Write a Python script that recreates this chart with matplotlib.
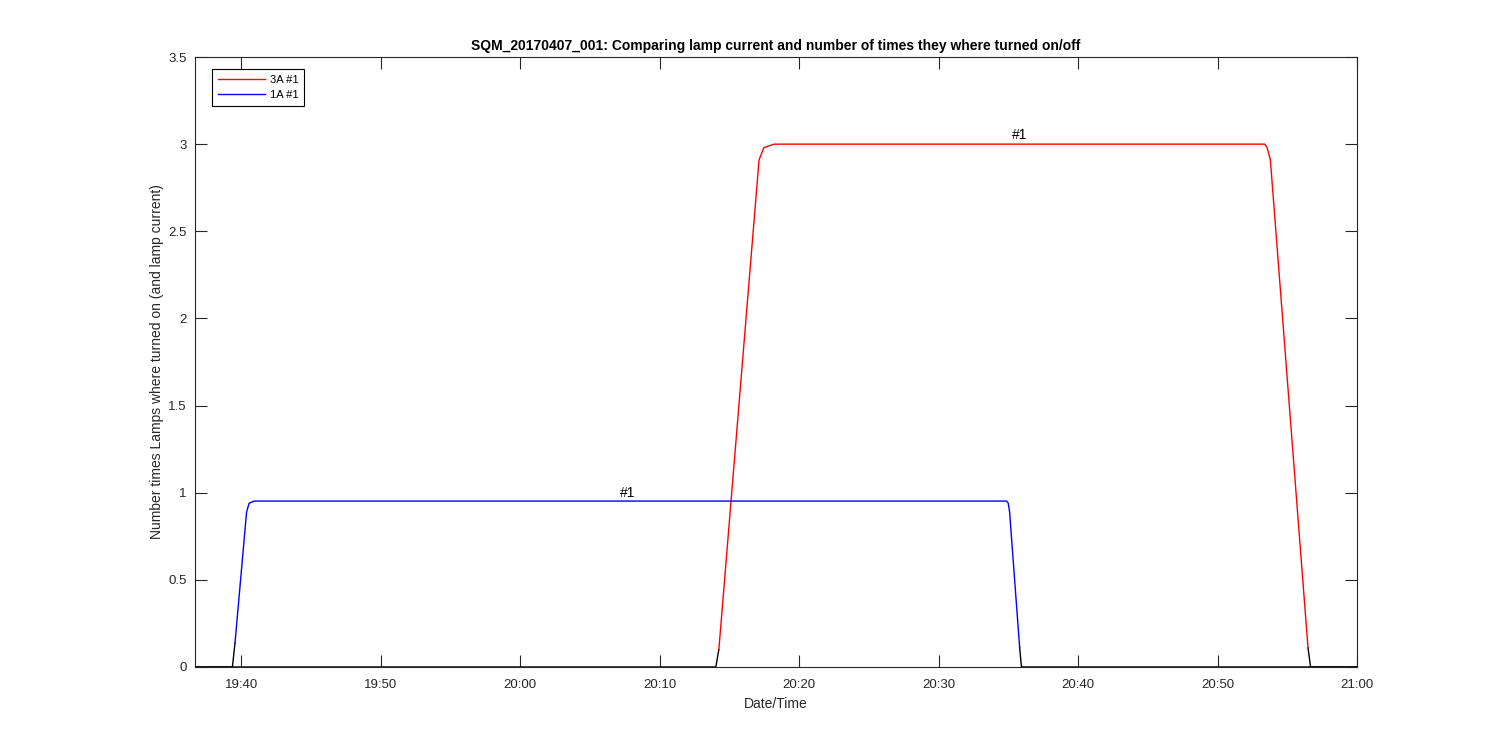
import numpy as np
import pandas as pd
import matplotlib
matplotlib.use("Agg")
from matplotlib import pyplot as plt
import matplotlib.dates as mdates

plt.rcParams['font.family'] = ['Liberation Sans', 'DejaVu Sans']

DAY = "2017-04-07 "
X_START = "19:36:40"
X_END = "21:00:00"

# lamp 1A #1 (blue) - time stamps and values
times_1a = ["19:36:40", "19:39:21", "19:39:32", "19:40:22", "19:40:33", "19:40:55",
            "20:34:52", "20:34:59", "20:35:05", "20:35:48", "20:35:56", "21:00:00"]
vals_1a = [0.0, 0.0, 0.136, 0.89, 0.94, 0.952,
           0.952, 0.94, 0.89, 0.116, 0.0, 0.0]

# lamp 3A #1 (red)
times_3a = ["19:36:40", "20:14:01", "20:14:14", "20:17:07", "20:17:28", "20:18:11",
            "20:53:23", "20:53:33", "20:53:47", "20:56:29", "20:56:40", "21:00:00"]
vals_3a = [0.0, 0.0, 0.10, 2.91, 2.98, 3.0,
           3.0, 2.98, 2.91, 0.11, 0.0, 0.0]

# "#1" labels
label_times = ["20:07:40", "20:35:48"]
label_vals = [1.0, 3.054]

series = [("3A #1", times_3a, vals_3a, "#ff0000"),
          ("1A #1", times_1a, vals_1a, "#0000ff")]

dark = "#262626"

fig = plt.figure(figsize=(15, 7.5), dpi=100)
ax = fig.add_axes([0.13, 0.1107, 0.7747, 0.8133])

handles = []
for name, tt, vv, col in series:
    t = pd.to_datetime([DAY + s for s in tt])
    v = np.array(vv, dtype=float)
    low = np.where(v > 0.15, np.nan, v)     # off part drawn black
    high = np.where(v < 0.09, np.nan, v)    # on part drawn in lamp colour
    ax.plot(t, low, color="black", lw=1.0)
    h, = ax.plot(t, high, color=col, lw=1.0, label=name)
    handles.append(h)

for tl, yl in zip(label_times, label_vals):
    ax.text(pd.Timestamp(DAY + tl), yl, "#1", ha="center", va="center",
            fontsize=10, color="black")

ax.set_xlim(pd.Timestamp(DAY + X_START), pd.Timestamp(DAY + X_END))
ax.set_ylim(0, 3.5)
ax.xaxis.set_major_locator(mdates.MinuteLocator(byminute=range(0, 60, 10)))
ax.xaxis.set_major_formatter(mdates.DateFormatter("%H:%M"))
ax.set_yticks(np.arange(0, 3.51, 0.5))
ax.set_yticklabels(["%g" % y for y in np.arange(0, 3.51, 0.5)])

ax.tick_params(direction="in", length=8.3, width=0.8, top=True, right=True,
               colors=dark, labelsize=9.5)
ax.tick_params(axis="x", pad=9)
ax.tick_params(axis="y", pad=6)
for sp in ax.spines.values():
    sp.set_color(dark)
    sp.set_linewidth(0.8)

ax.set_xlabel("Date/Time", fontsize=10, color=dark, labelpad=4)
ax.set_ylabel("Number times Lamps where turned on (and lamp current)", fontsize=10,
              color=dark, labelpad=3)
ax.set_title("SQM_20170407_001: Comparing lamp current and number of times they where turned on/off",
             fontsize=10, fontweight="bold", color="black", pad=5)

leg = ax.legend(handles=handles, loc="upper left", fontsize=8, frameon=True,
                fancybox=False, edgecolor="black", framealpha=1,
                bbox_to_anchor=(0.015, 0.98), borderaxespad=0, handlelength=4.2,
                handletextpad=0.5, borderpad=0.5)
leg.get_frame().set_linewidth(0.8)

fig.savefig("out.png", dpi=100, facecolor="white")
